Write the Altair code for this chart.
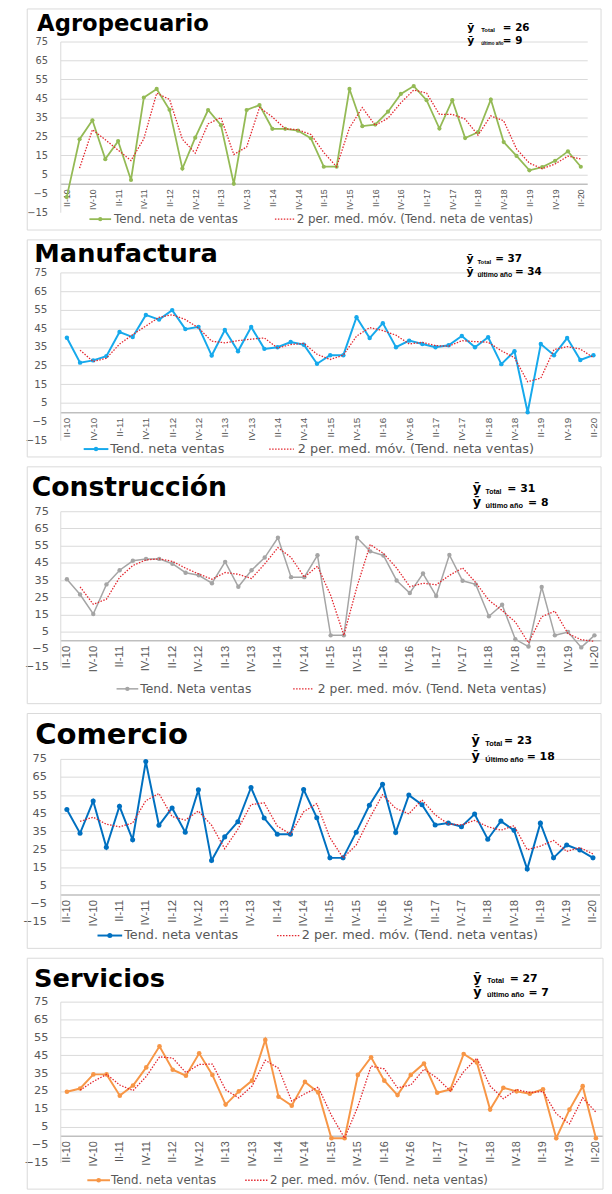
import altair as alt
import pandas as pd

quarters = ["II-10", "III-10", "IV-10", "I-11", "II-11", "III-11", "IV-11", "I-12", "II-12", "III-12",
            "IV-12", "I-13", "II-13", "III-13", "IV-13", "I-14", "II-14", "III-14", "IV-14", "I-15",
            "II-15", "III-15", "IV-15", "I-16", "II-16", "III-16", "IV-16", "I-17", "II-17", "III-17",
            "IV-17", "I-18", "II-18", "III-18", "IV-18", "I-19", "II-19", "III-19", "IV-19", "I-20", "II-20"]
tick_labels = ["II-10", "IV-10", "II-11", "IV-11", "II-12", "IV-12", "II-13", "IV-13", "II-14", "IV-14",
               "II-15", "IV-15", "II-16", "IV-16", "II-17", "IV-17", "II-18", "IV-18", "II-19", "IV-19", "II-20"]
y_ticks = [-15, -5, 5, 15, 25, 35, 45, 55, 65, 75]

agro = [-7, 23.5, 33.5, 13, 22.5, 2, 45.5, 50, 39, 8, 24.3, 38.9, 30.9, 0, 38.9, 41.5, 29, 29, 28, 24,
        9, 9, 50, 30.4, 31.2, 38, 47.4, 51.5, 44.1, 29.1, 44.1, 24.1, 27.2, 44.4, 22, 14.7, 7.1, 8.8,
        12.1, 17.1, 9]
manufactura = [40, 26.6, 27.8, 30.1, 43, 40.3, 52.2, 49.7, 54.8, 44.6, 45.8, 30.4, 44.1, 32.7, 45.7,
               34, 34.9, 37.7, 36.2, 26, 30.6, 30.6, 51, 39.8, 47.8, 34.9, 38.4, 36.6, 34.9, 35.9,
               40.9, 34.9, 40.2, 25.8, 32.7, 0, 36.6, 30.6, 39.8, 28, 30.6]
construccion = [35.5, 26.6, 15.3, 32.5, 40.7, 46.2, 47.3, 47.3, 44.5, 39.3, 37.8, 33.2, 45.6, 31.1,
                40.7, 48.1, 59.6, 36.7, 36.7, 49.4, 2.9, 2.9, 59.6, 51.7, 49.3, 34.8, 27.5, 38.8,
                25.8, 49.6, 34.6, 32.5, 14, 20.7, 0.6, -3.6, 31, 2.9, 4.8, -4.1, 2.9]
comercio = [47, 33.9, 51.7, 26.1, 48.8, 30.3, 73.5, 38.3, 47.9, 34.5, 57.9, 18.8, 31.9, 40.3, 59.2,
            42.3, 33.4, 33.4, 58.1, 42.5, 20.3, 20.3, 34.5, 49.4, 61, 34.3, 55, 49.7, 38.5, 39.5,
            37.5, 44.5, 30.6, 40.6, 35.5, 14.1, 39.5, 20.3, 27.4, 24.6, 20.3]
servicios = [24.6, 26.4, 34.3, 34.3, 22.4, 28.1, 38.2, 50, 36.9, 33.6, 46.1, 34, 17.4, 24.8, 30.8,
             53.6, 21.8, 16.8, 30.1, 24.2, -1.4, -1.4, 34, 43.9, 30.8, 22.7, 34, 40.4, 24, 25.9,
             45.7, 41, 14.6, 26.8, 24.8, 23.5, 26, -1.4, 14.6, 27.7, -1.4]

titles = ["Agropecuario", "Manufactura", "Construcción", "Comercio", "Servicios"]
mean_total = [26, 37, 31, 23, 27]
mean_last = [9, 34, 8, 18, 7]
label_total = "Total"
label_last = ["último año", "último año", "último año", "Último año", "último año"]
legend_main = ["Tend. neta de ventas", "Tend. neta ventas", "Tend. Neta ventas",
               "Tend. neta ventas", "Tend. neta ventas"]
legend_ma = ["2 per. med. móv. (Tend. neta de ventas)", "2 per. med. móv. (Tend. neta ventas)",
             "2 per. med. móv. (Tend. Neta ventas)", "2 per. med. móv. (Tend. neta ventas)",
             "2 per. med. móv. (Tend. neta ventas)"]

series = [agro, manufactura, construccion, comercio, servicios]

MA_COLOR = "#E3262E"
GREY_TXT = "#595959"

styles = [
    dict(color="#94BA55", W=534, H=173, box=(-33.5, -33, 548, 191), title=(-23.5, -11, 23),
         yfs=10, xfs=9, legfs=12, ylpad=13, lw=1.8, ms=18, yb=11, eqfs=10.5, guard=-35,
         ann=(412.5, 426.5, 448.5, 448.5, -11, 2.3), subfs=(6, 4.5),
         leg=(29.5, 51.5, 54.5, 217.5, 237.5, 239.5, 180)),
    dict(color="#16A9EC", W=547, H=170, box=(-33.5, -33, 548, 187), title=(-26.3, -11, 26),
         yfs=10.5, xfs=10, legfs=13, ylpad=13.5, lw=2, ms=20, yb=11, eqfs=10.5, guard=None,
         ann=(411.7, 422.7, 440.7, 460.7, -10.5, 2.7), subfs=(6, 7),
         leg=(23.7, 48.7, 50.7, 211.7, 236.7, 240.7, 179)),
    dict(color="#A5A5A5", W=548, H=157, box=(-33.5, -45, 548, 195), title=(-29, -15, 27),
         yfs=11.5, xfs=11.5, legfs=12.5, ylpad=12, lw=1.5, ms=20, yb=13, eqfs=11, guard=None,
         ann=(418, 431, 453, 474, -19.3, -5), subfs=(7, 7.5),
         leg=(57, 79, 81, 236, 257, 261, 180)),
    dict(color="#0070C0", W=546.5, H=165, box=(-33.5, -46, 548, 192), title=(-25.5, -15, 29.5),
         yfs=11.5, xfs=11.5, legfs=13, ylpad=14, lw=2, ms=26, yb=13, eqfs=11, guard=None,
         ann=(416.7, 430.7, 449.7, 472.7, -14.7, 1.5), subfs=(7.5, 7.5),
         leg=(37.7, 62.7, 64.7, 219.7, 242.7, 244.7, 179)),
    dict(color="#F79646", W=549.5, H=163, box=(-33.5, -44, 550, 190), title=(-26.6, -15, 26),
         yfs=11.5, xfs=11, legfs=12, ylpad=12.5, lw=2, ms=22, yb=13, eqfs=11, guard=None,
         ann=(418.4, 432.4, 455.4, 474.4, -20, -6), subfs=(7.5, 7.5),
         leg=(27.4, 50.4, 51.4, 187.4, 211.4, 212.4, 181)),
]


def one(**kw):
    return alt.Data(values=[kw])


def text_layer(t, x, y, size, font="DejaVu Sans", weight="normal", color="black", baseline="alphabetic"):
    return alt.Chart(one(t=t)).mark_text(
        align="left", baseline=baseline, font=font, fontSize=size, fontWeight=weight, color=color
    ).encode(x=alt.value(x), y=alt.value(y), text="t:N")


def panel(k):
    s = styles[k]
    W, H = s["W"], s["H"]
    df = pd.DataFrame({"q": quarters, "idx": list(range(len(quarters))), "v": series[k]})
    xenc = alt.X("q:N", scale=alt.Scale(type="point", domain=quarters, padding=0.5),
                 axis=alt.Axis(values=tick_labels, title=None, labelAngle=-90, ticks=False, grid=False,
                               domainColor="#BFBFBF", domainWidth=1.5, offset=-H * 15 / 90,
                               labelFont="Liberation Sans", labelFontSize=s["xfs"], labelColor=GREY_TXT,
                               labelPadding=5, labelOverlap=False))
    yscale = alt.Scale(domain=[-15, 75], nice=False, zero=False)
    yaxis = alt.Axis(values=y_ticks, title=None, ticks=False, grid=True,
                     gridColor={"condition": {"test": "datum.value >= 5", "value": "#D9D9D9"},
                                "value": "transparent"},
                     gridWidth=1, domainColor="#D9D9D9", domainWidth=1,
                     labelFont="DejaVu Sans", labelFontSize=s["yfs"], labelColor=GREY_TXT,
                     labelPadding=s["ylpad"])
    base = alt.Chart(df)
    order = alt.Order("idx:Q")
    line = base.mark_line(color=s["color"], strokeWidth=s["lw"]).encode(
        x=xenc, y=alt.Y("v:Q", scale=yscale, axis=yaxis), order=order)
    pts = base.mark_point(filled=True, opacity=1, color=s["color"], size=s["ms"]).encode(
        x=xenc, y=alt.Y("v:Q", scale=yscale, axis=yaxis))
    ma = base.transform_window(
        ma="mean(v)", frame=[-1, 0], sort=[alt.SortField("idx")]
    ).transform_filter("datum.idx >= 1").mark_line(
        color=MA_COLOR, strokeWidth=1.3, strokeDash=[1.5, 1.5]
    ).encode(x=xenc, y=alt.Y("ma:Q", scale=yscale, axis=yaxis), order=order)

    bx1, by1, bx2, by2 = s["box"]
    border = alt.Chart(one(a=1)).mark_rect(fillOpacity=0, stroke="#D9D9D9", strokeWidth=1).encode(
        x=alt.value(bx1), x2=alt.value(bx2), y=alt.value(by1), y2=alt.value(by2))
    layers = [border]
    if s["guard"] is not None:
        layers.append(alt.Chart(one(a=1)).mark_rule(strokeOpacity=0, stroke="white").encode(
            x=alt.value(0), x2=alt.value(10), y=alt.value(s["guard"])))

    tx, ty, tfs = s["title"]
    title = text_layer(titles[k], tx, ty, tfs, weight="bold")

    yx, subx, eq1, eq2, b1, b2 = s["ann"]
    ann = [
        text_layer("ȳ", yx, b1, s["yb"], weight="bold"),
        text_layer(label_total, subx, b1 + 1.5, s["subfs"][0], font="Liberation Sans", weight="bold"),
        text_layer("= %d" % mean_total[k], eq1, b1, s["eqfs"], weight="bold"),
        text_layer("ȳ", yx, b2, s["yb"], weight="bold"),
        text_layer(label_last[k], subx, b2 + 1.5, s["subfs"][1], font="Liberation Sans", weight="bold"),
        text_layer("= %d" % mean_last[k], eq2, b2, s["eqfs"], weight="bold"),
    ]

    l1, l2, t1, d1, d2, t2, ly = s["leg"]
    leg = [
        alt.Chart(one(a=1)).mark_rule(color=s["color"], strokeWidth=s["lw"]).encode(
            x=alt.value(l1), x2=alt.value(l2), y=alt.value(ly)),
        alt.Chart(one(a=1)).mark_point(filled=True, opacity=1, color=s["color"], size=s["ms"]).encode(
            x=alt.value((l1 + l2) / 2), y=alt.value(ly)),
        text_layer(legend_main[k], t1, ly, s["legfs"], color=GREY_TXT, baseline="middle"),
        alt.Chart(one(a=1)).mark_rule(color=MA_COLOR, strokeWidth=1.3, strokeDash=[1.5, 1.5]).encode(
            x=alt.value(d1), x2=alt.value(d2), y=alt.value(ly)),
        text_layer(legend_ma[k], t2, ly, s["legfs"], color=GREY_TXT, baseline="middle"),
    ]

    layers += [line, pts, ma, title, *ann, *leg]
    return alt.layer(*layers).properties(width=W, height=H)


chart = alt.vconcat(*[panel(k) for k in range(5)], spacing=8).properties(
    padding={"left": 14, "top": -9, "right": 0, "bottom": 0},
    background="white",
).configure_view(strokeWidth=0)

chart.save("out.html", embed_options={"renderer": "svg", "actions": False})
